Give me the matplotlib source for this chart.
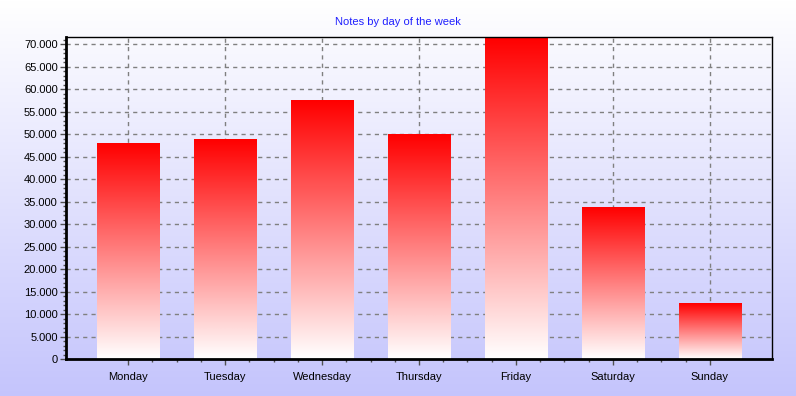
import numpy as np
import matplotlib
matplotlib.use("Agg")
import matplotlib.pyplot as plt
from matplotlib.ticker import MultipleLocator, FixedLocator, FuncFormatter
from matplotlib.colors import LinearSegmentedColormap

# data
days = ["Monday", "Tuesday", "Wednesday", "Thursday", "Friday", "Saturday", "Sunday"]
notes = [47900, 48800, 57400, 49900, 71600, 33700, 12400]

plt.rcParams['font.family'] = ['Liberation Sans', 'DejaVu Sans']
plt.rcParams['font.size'] = 8

fig = plt.figure(figsize=(7.96, 3.96), dpi=100)

# background gradient for the whole figure
bg = fig.add_axes([0, 0, 1, 1], zorder=-10)
bg_cmap = LinearSegmentedColormap.from_list("bg", [(0.77, 0.77, 0.99), (1.0, 1.0, 1.0)])
bg.imshow(np.linspace(0, 1, 256).reshape(-1, 1), cmap=bg_cmap, aspect="auto",
          origin="lower", extent=(0, 1, 0, 1))
bg.axis("off")

ax = fig.add_axes([66 / 796, 37 / 396, 706 / 796, 322 / 396])
ax.patch.set_alpha(0)

bar_cmap = LinearSegmentedColormap.from_list("bar", [(1, 1, 1), (1, 0, 0)])
grad = np.linspace(0, 1, 256).reshape(-1, 1)
width = 0.64
x = np.arange(len(days))
for xi, v in zip(x, notes):
    ax.imshow(grad, cmap=bar_cmap, aspect="auto", origin="lower",
              extent=(xi - width / 2, xi + width / 2, 0, v), zorder=2)

ax.set_xlim(-0.64, len(days) - 1 + 0.64)
ax.set_ylim(0, 71600)
ax.set_xticks(x)
ax.set_xticklabels(days)
minor_x = [m for m in np.arange(0, len(days) - 1 + 0.01, 0.25) if m % 1 != 0]
ax.xaxis.set_minor_locator(FixedLocator(minor_x))
ax.yaxis.set_major_locator(MultipleLocator(5000))
ax.yaxis.set_minor_locator(MultipleLocator(1000))
ax.yaxis.set_major_formatter(FuncFormatter(lambda v, p: f"{int(v):,}".replace(",", ".")))

ax.grid(True, which="major", color="#808080", linestyle=(0, (3, 3)), linewidth=1, zorder=1)
ax.set_axisbelow(True)

for s in ["left", "bottom"]:
    ax.spines[s].set_linewidth(2)
for s in ["top", "right"]:
    ax.spines[s].set_linewidth(1)

ax.tick_params(which="major", length=4, width=1, color="#505050", pad=2)
ax.tick_params(which="minor", length=2, width=1, color="#505050")
ax.tick_params(axis="x", which="major", pad=5)

fig.text(0.5, 1 - 22 / 396, "Notes by day of the week", color="#2020ff",
         ha="center", va="center", fontsize=8)

fig.savefig("out.png", dpi=100)
